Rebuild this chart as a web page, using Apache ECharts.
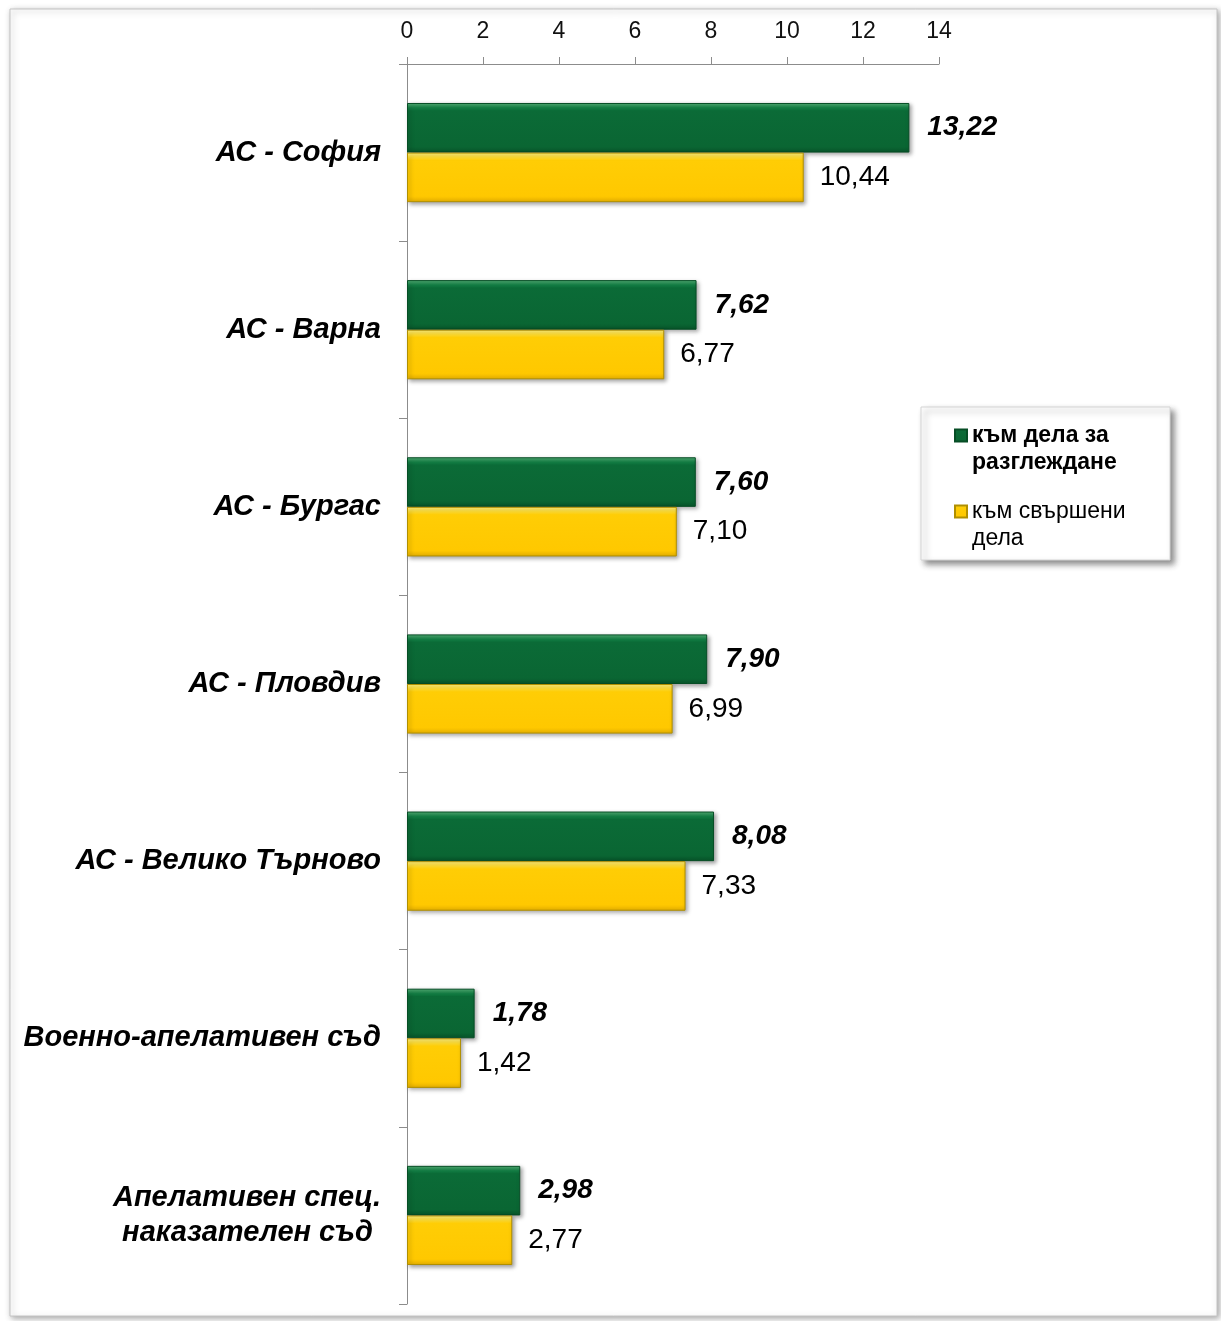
<!DOCTYPE html>
<html>
<head>
<meta charset="utf-8">
<script src="https://cdn.jsdelivr.net/npm/echarts@6/dist/echarts.min.js"></script>
<style>
html,body{margin:0;padding:0;background:#fff;}
#chart{width:1221px;height:1321px;}
</style>
</head>
<body>
<div id="chart"></div>
<script>
const categories = ['АС - София', 'АС - Варна', 'АС - Бургас', 'АС - Пловдив', 'АС - Велико Търново', 'Военно-апелативен съд', 'Апелативен спец.\nнаказателен съд '];
const seriesNames = ['към дела за\nразглеждане', 'към свършени\nдела'];
const forReview = [13.22, 7.62, 7.60, 7.90, 8.08, 1.78, 2.98];
const completed = [10.44, 6.77, 7.10, 6.99, 7.33, 1.42, 2.77];
const tickMin = 0, tickMax = 14, tickStep = 2;

const fmt = v => v.toFixed(2).replace('.', ',');
const font = '"Liberation Sans", Arial, sans-serif';

const greenFill = new echarts.graphic.LinearGradient(0, 0, 0, 1, [
  {offset: 0, color: '#55b177'},
  {offset: 0.1, color: '#138045'},
  {offset: 0.16, color: '#0b6b37'},
  {offset: 0.88, color: '#0a6633'},
  {offset: 1, color: '#08552a'}
]);
const yellowFill = new echarts.graphic.LinearGradient(0, 0, 0, 1, [
  {offset: 0, color: '#fff080'},
  {offset: 0.1, color: '#ffdc30'},
  {offset: 0.16, color: '#ffcd05'},
  {offset: 0.88, color: '#ffc800'},
  {offset: 1, color: '#e6b000'}
]);

const chart = echarts.init(document.getElementById('chart'), null, {renderer: 'canvas'});
chart.setOption({
  animation: false,
  backgroundColor: '#fff',
  graphic: [
    {type: 'rect', z: -10, shape: {x: 10, y: 9, width: 1207, height: 1307},
     style: {fill: '#fff', stroke: '#c4c4c4', lineWidth: 1, shadowBlur: 6, shadowColor: 'rgba(0,0,0,0.35)', shadowOffsetX: 2, shadowOffsetY: 2}},
    {type: 'rect', z: -5, shape: {x: 921, y: 407, width: 249, height: 153},
     style: {fill: '#fff', stroke: '#d4d4d4', lineWidth: 1, shadowBlur: 6, shadowColor: 'rgba(0,0,0,0.45)', shadowOffsetX: 4, shadowOffsetY: 4}}
  ],
  grid: {left: 407, top: 64, right: 282, bottom: 17, containLabel: false},
  legend: {
    orient: 'vertical',
    left: 954,
    top: 395,
    padding: 0,
    itemGap: -5,
    itemWidth: 12,
    itemHeight: 12,
    icon: 'rect',
    data: seriesNames,
    formatter: name => name === seriesNames[0] ? '{b|' + name.replace('\n', '}\n{b|') + '}' : '{n|' + name.replace('\n', '}\n{n|') + '}',
    textStyle: {
      fontFamily: font, fontSize: 23, color: '#000', lineHeight: 27, padding: [27, 0, 0, 0],
      rich: {
        b: {fontFamily: font, fontSize: 23, fontWeight: 'bold', color: '#000', lineHeight: 27},
        n: {fontFamily: font, fontSize: 23, color: '#000', lineHeight: 27}
      }
    }
  },
  xAxis: {
    type: 'value',
    position: 'top',
    min: tickMin, max: tickMax, interval: tickStep,
    axisLine: {show: true, lineStyle: {color: '#8c8c8c', width: 1}},
    axisTick: {show: true, length: 7, lineStyle: {color: '#8c8c8c'}},
    axisLabel: {fontFamily: font, fontSize: 23, color: '#111', margin: 21},
    splitLine: {show: false}
  },
  yAxis: {
    type: 'category',
    inverse: true,
    data: categories,
    axisLine: {show: true, lineStyle: {color: '#8c8c8c', width: 1}},
    axisTick: {show: true, length: 8, lineStyle: {color: '#8c8c8c'}},
    axisLabel: {fontFamily: font, fontSize: 29, fontWeight: 'bold', fontStyle: 'italic', color: '#000', margin: 26, lineHeight: 35, padding: [6, 0, 0, 0]}
  },
  series: [
    {
      name: seriesNames[0], type: 'bar', data: forReview,
      barGap: '0%', barCategoryGap: '44%',
      itemStyle: {color: greenFill, borderColor: '#064d25', borderWidth: 1, shadowBlur: 4, shadowColor: 'rgba(0,0,0,0.35)', shadowOffsetX: 2, shadowOffsetY: 2},
      label: {show: true, position: 'right', distance: 18, formatter: p => fmt(p.value),
        fontFamily: font, fontSize: 28, fontWeight: 'bold', fontStyle: 'italic', color: '#000'}
    },
    {
      name: seriesNames[1], type: 'bar', data: completed,
      barGap: '0%', barCategoryGap: '44%',
      itemStyle: {color: yellowFill, borderColor: '#b08f00', borderWidth: 1, shadowBlur: 4, shadowColor: 'rgba(0,0,0,0.35)', shadowOffsetX: 2, shadowOffsetY: 2},
      label: {show: true, position: 'right', distance: 16, formatter: p => fmt(p.value),
        fontFamily: font, fontSize: 28, color: '#000'}
    }
  ]
});
</script>
</body>
</html>
